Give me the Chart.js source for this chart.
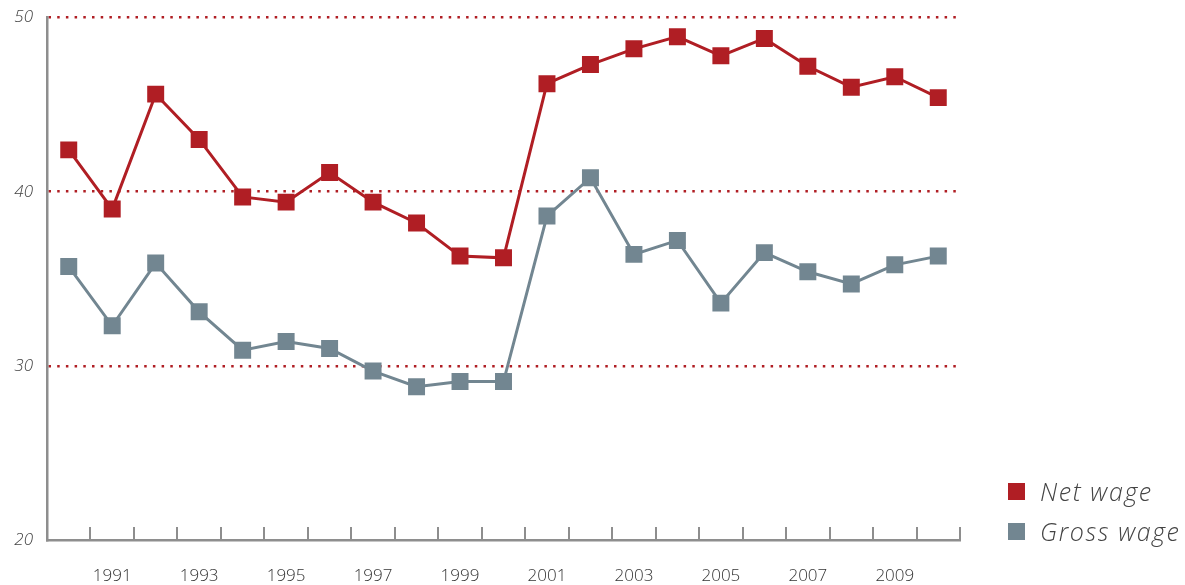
<!DOCTYPE html>
<html>
<head>
<meta charset="utf-8">
<script src="https://cdn.jsdelivr.net/npm/chart.js@4.4.1/dist/chart.umd.min.js"></script>
<style>
  html, body { margin: 0; padding: 0; background: #fff; }
  #wrap { position: relative; width: 1185px; height: 585px; }
  #legend {
    position: absolute; left: 1008px; top: 471px;
    list-style: none; margin: 0; padding: 0;
    font-family: "Open Sans", sans-serif; font-style: italic; font-weight: 300;
    font-size: 25px; letter-spacing: 1.6px; color: #444;
  }
  #legend li { display: flex; align-items: center; height: 40px; }
  #legend .box { width: 17px; height: 17px; margin-right: 15px; }
</style>
</head>
<body>
<div id="wrap">
  <canvas id="wageChart" width="1185" height="585"></canvas>
  <ul id="legend"></ul>
</div>
<script>
// data
const years = [1990, 1991, 1992, 1993, 1994, 1995, 1996, 1997, 1998, 1999, 2000,
               2001, 2002, 2003, 2004, 2005, 2006, 2007, 2008, 2009, 2010];
const netWage = [42.4, 39.0, 45.6, 43.0, 39.7, 39.4, 41.1, 39.4, 38.2, 36.3, 36.2,
                 46.2, 47.3, 48.2, 48.9, 47.8, 48.8, 47.2, 46.0, 46.6, 45.4];
const grossWage = [35.7, 32.3, 35.9, 33.1, 30.9, 31.4, 31.0, 29.7, 28.8, 29.1, 29.1,
                   38.6, 40.8, 36.4, 37.2, 33.6, 36.5, 35.4, 34.7, 35.8, 36.3];
const yTicks = [20, 30, 40, 50];

const red = "#b01e24";
const grey = "#728691";
const axisGrey = "#8e8e8e";

/*
  @desc: small upward tick marks between the years on the x axis
*/
const xTickMarks = {
  id: "xTickMarks",
  afterDraw(chart) {
    const x = chart.scales.x;
    const ctx = chart.ctx;
    const step = x.getPixelForValue(1) - x.getPixelForValue(0);
    const bottom = chart.chartArea.bottom;
    ctx.save();
    ctx.strokeStyle = axisGrey;
    ctx.lineWidth = 2;
    ctx.beginPath();
    for (let i = 1; i <= years.length; i++) {
      const px = Math.round(x.getPixelForValue(0) + (i - 0.5) * step);
      ctx.moveTo(px, bottom - 13);
      ctx.lineTo(px, bottom);
    }
    ctx.stroke();
    ctx.restore();
  }
};

const config = {
  type: "line",
  data: {
    labels: years,
    datasets: [
      {
        label: "Net wage",
        data: netWage,
        borderColor: red,
        backgroundColor: red,
        borderWidth: 3,
        pointStyle: "rect",
        pointRadius: 12,
        pointBorderWidth: 0,
        tension: 0,
      },
      {
        label: "Gross wage",
        data: grossWage,
        borderColor: grey,
        backgroundColor: grey,
        borderWidth: 3,
        pointStyle: "rect",
        pointRadius: 12,
        pointBorderWidth: 0,
        tension: 0,
      },
    ],
  },
  options: {
    responsive: false,
    animation: false,
    events: [],
    layout: {
      padding: { top: 17.5, left: 0, right: 225, bottom: 0 },
    },
    plugins: {
      legend: { display: false },
      tooltip: { enabled: false },
    },
    scales: {
      x: {
        offset: true,
        afterFit: (scale) => {
          scale.height = 45;
          scale.paddingLeft = 0;
          scale.paddingRight = 0;
        },
        grid: { display: false },
        border: { display: true, color: axisGrey, width: 2.5 },
        ticks: {
          autoSkip: false,
          maxRotation: 0,
          padding: 18,
          color: "#333",
          font: { family: "Open Sans", size: 17, weight: 300 },
          callback: function (value, index) {
            const y = years[index];
            return y % 2 === 1 ? String(y) : "";
          },
        },
      },
      y: {
        min: 20,
        max: 50,
        afterBuildTicks: (axis) => {
          axis.ticks = yTicks.map((v) => ({ value: v }));
        },
        afterFit: (scale) => {
          scale.width = 47;
          scale.paddingTop = 0;
          scale.paddingBottom = 0;
        },
        grid: {
          drawTicks: false,
          lineWidth: 2.5,
          color: (ctx) => (ctx.tick && ctx.tick.value === 20 ? "rgba(0,0,0,0)" : red),
        },
        border: { display: true, color: axisGrey, width: 2.5, dash: [2.5, 6.2] },
        ticks: {
          padding: 14,
          color: "#444",
          font: { family: "Open Sans", size: 17, style: "italic", weight: 300 },
        },
      },
    },
  },
  plugins: [xTickMarks],
};

const wageChart = new Chart(document.getElementById("wageChart"), config);

/*
  @desc: legend built from the datasets
*/
const legend = document.getElementById("legend");
for (const ds of config.data.datasets) {
  const li = document.createElement("li");
  li.innerHTML = `<span class="box" style="background:${ds.backgroundColor}"></span>${ds.label}`;
  legend.appendChild(li);
}
</script>
</body>
</html>
